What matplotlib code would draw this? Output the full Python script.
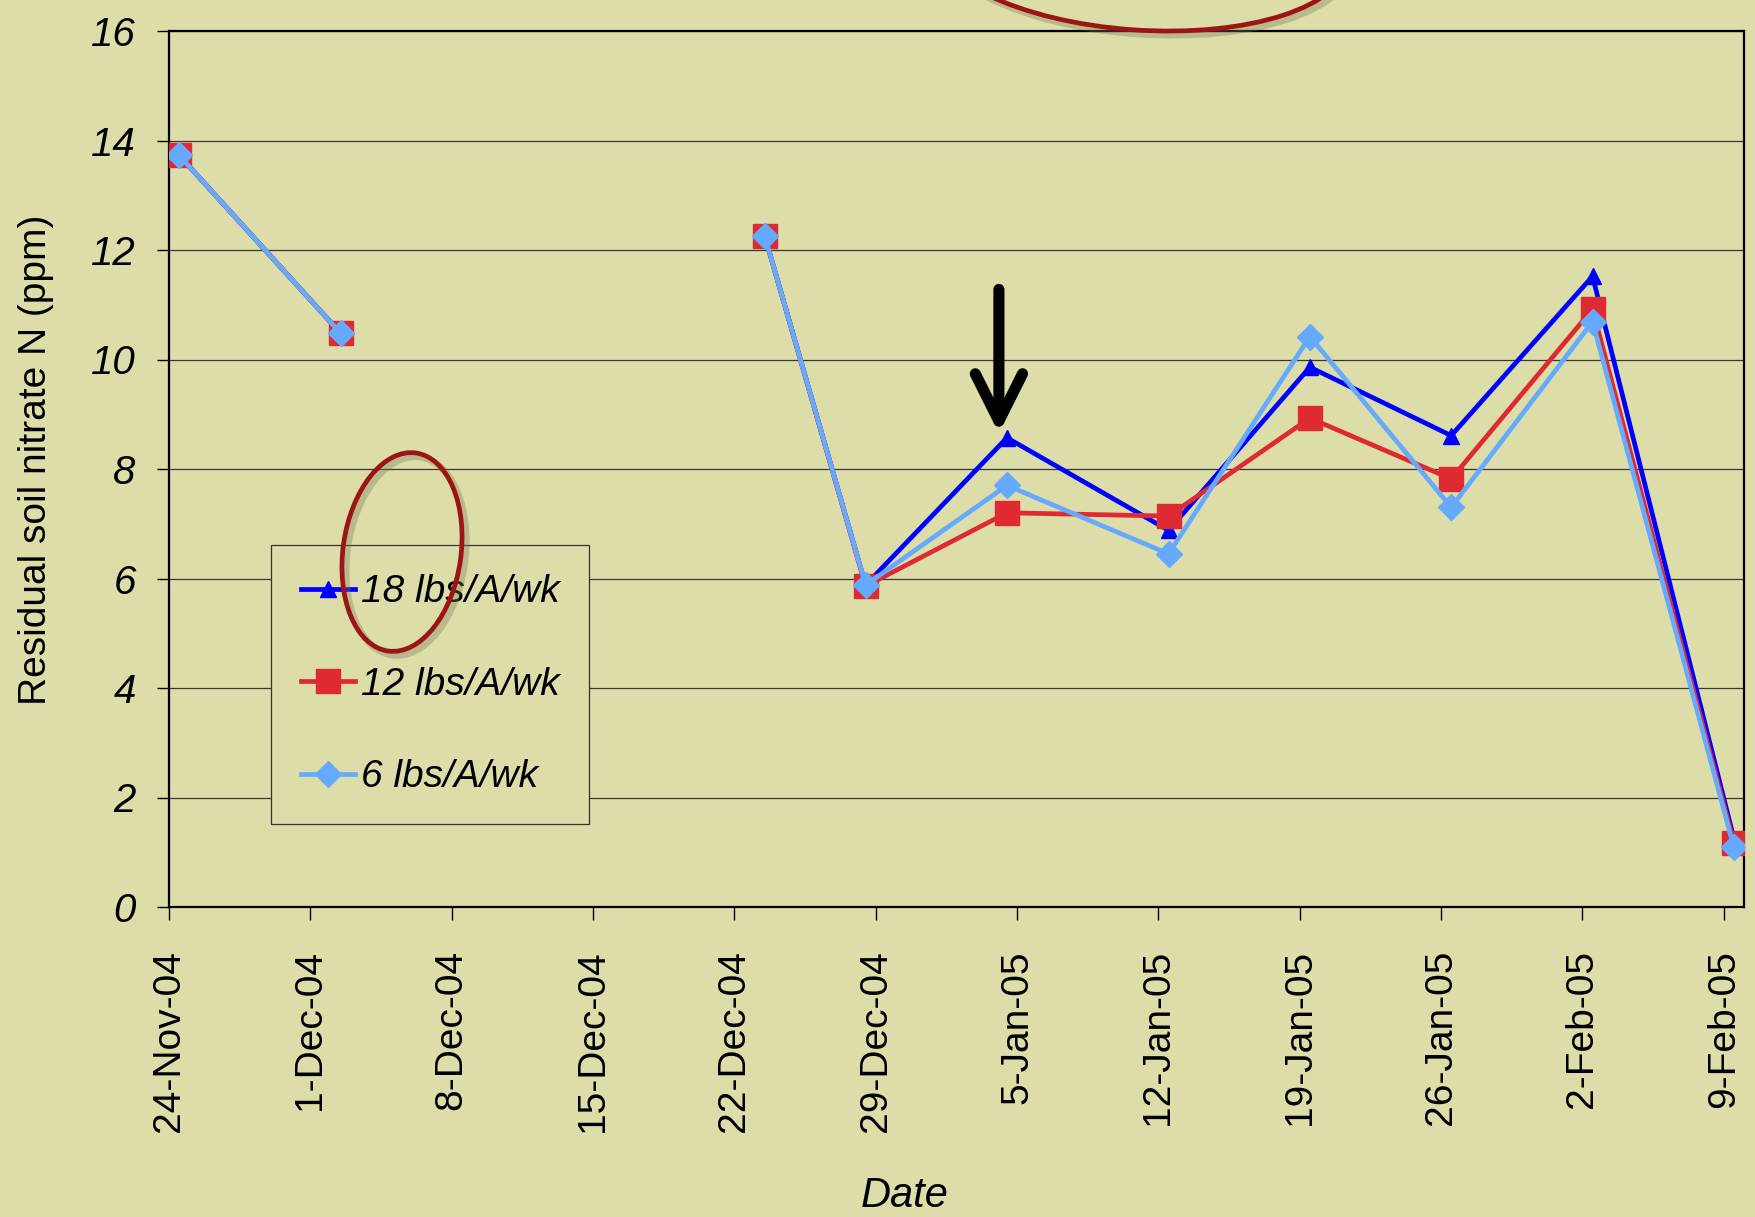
#! /usr/bin/env python3

import datetime as dt
import matplotlib as mpl
mpl.use('Agg')
import matplotlib.pyplot as plt
import matplotlib.dates as mdates
import matplotlib.ticker as ticker
from matplotlib.patches import Ellipse
import numpy as np

bg = '#dcdda8'
fam = ['Liberation Sans', 'DejaVu Sans']

mpl.rcParams['font.family'] = fam
mpl.rcParams['legend.fancybox'] = False
mpl.rcParams['xtick.direction'] = 'out'
mpl.rcParams['ytick.direction'] = 'out'

# sample dates (9-Dec is blank in the sheet -> gap in the lines)
dates = ['2004-11-24', '2004-12-02', '2004-12-09', '2004-12-23', '2004-12-28',
         '2005-01-04', '2005-01-12', '2005-01-19', '2005-01-26', '2005-02-02',
         '2005-02-09']
n18 = [13.73, 10.48, np.nan, 12.26, 5.88, 8.57, 6.88, 9.86, 8.61, 11.52, 1.25]
n12 = [13.73, 10.48, np.nan, 12.26, 5.86, 7.20, 7.14, 8.93, 7.82, 10.92, 1.17]
n6 = [13.73, 10.48, np.nan, 12.26, 5.88, 7.70, 6.45, 10.42, 7.30, 10.69, 1.09]
labels = ['18 lbs/A/wk', '12 lbs/A/wk', '6 lbs/A/wk']

axis_start = dt.date(2004, 11, 24)
axis_end = dt.date(2005, 2, 10)

# excel puts each point in the middle of its day
x = np.array([mdates.date2num(dt.date.fromisoformat(d)) for d in dates]) + 0.5

fig = plt.figure(figsize=[17.56, 12.17], dpi=100, facecolor=bg)
ax = fig.add_axes([169/1756, 1 - 907/1217, 1575/1756, 876/1217])
ax.set_facecolor(bg)

ax.plot(x, n18, color='#0000ff', lw=3.4, marker='^', ms=11, label=labels[0], zorder=3)
ax.plot(x, n12, color='#de2b33', lw=3.4, marker='s', ms=17, label=labels[1], zorder=4)
ax.plot(x, n6, color='#66aaff', lw=3.4, marker='D', ms=13.5, label=labels[2], zorder=5)

ax.set_xlim(mdates.date2num(axis_start), mdates.date2num(axis_end))
ax.set_ylim(0, 16)
ax.yaxis.set_major_locator(ticker.MultipleLocator(2))
ax.grid(axis='y', color='#383838', lw=0.9)
ax.set_axisbelow(True)

ticks = [mdates.date2num(axis_start + dt.timedelta(days=7 * i)) for i in range(12)]
ax.set_xticks(ticks)
ax.xaxis.set_major_formatter(ticker.FuncFormatter(
    lambda v, *a: '{}-{}'.format(mdates.num2date(v).day, mdates.num2date(v).strftime('%b-%y'))))

ax.tick_params(axis='x', labelsize=28, rotation=90, length=9, width=1, pad=22)
ax.tick_params(axis='y', labelsize=29, length=9, width=1, pad=15)
for t in ax.get_yticklabels():
    t.set_fontstyle('italic')
for s in ax.spines.values():
    s.set_linewidth(1.6)
    s.set_color('black')

ax.set_ylabel('Residual soil nitrate N (ppm)', fontsize=28, va='center')
ax.yaxis.set_label_coords(-0.0844, 0.511)
ax.set_xlabel('Date', fontsize=30, style='italic', va='center')
ax.xaxis.set_label_coords(0.467, -0.33)

leg = ax.legend(loc='upper left', bbox_to_anchor=(0.065, 0.413), borderaxespad=0,
                prop={'size': 28, 'style': 'italic', 'family': fam},
                frameon=True, edgecolor='#333333', facecolor=bg, framealpha=1,
                handlelength=1.4, handletextpad=0.15, labelspacing=1.45,
                borderpad=0.75)
leg.get_frame().set_linewidth(0.9)

# arrow pointing at the 4-Jan point
xa = mdates.date2num(dt.date(2005, 1, 4)) + 0.1
ax.annotate('', xy=(xa, 8.65), xytext=(xa, 11.28),
            arrowprops=dict(arrowstyle='->, head_length=1.7, head_width=0.85',
                            mutation_scale=20, lw=8, color='black',
                            shrinkA=0, shrinkB=0, capstyle='round', joinstyle='round'))

# hand drawn red circles
for cx, cy, w, h, ang in [(1139, -55, 420, 170, -4), (402, 552, 118, 200, -8)]:
    fig.add_artist(Ellipse((cx / 100 + 0.04, (1217 - cy) / 100 - 0.04), w / 100, h / 100,
                           angle=ang, transform=fig.dpi_scale_trans, fill=False,
                           ec='#7a7a5a', lw=5, alpha=0.35, clip_on=False))
    fig.add_artist(Ellipse((cx / 100, (1217 - cy) / 100), w / 100, h / 100,
                           angle=ang, transform=fig.dpi_scale_trans, fill=False,
                           ec='#9c1414', lw=3.4, clip_on=False))

plt.savefig('out.png', dpi=100, facecolor=bg)
